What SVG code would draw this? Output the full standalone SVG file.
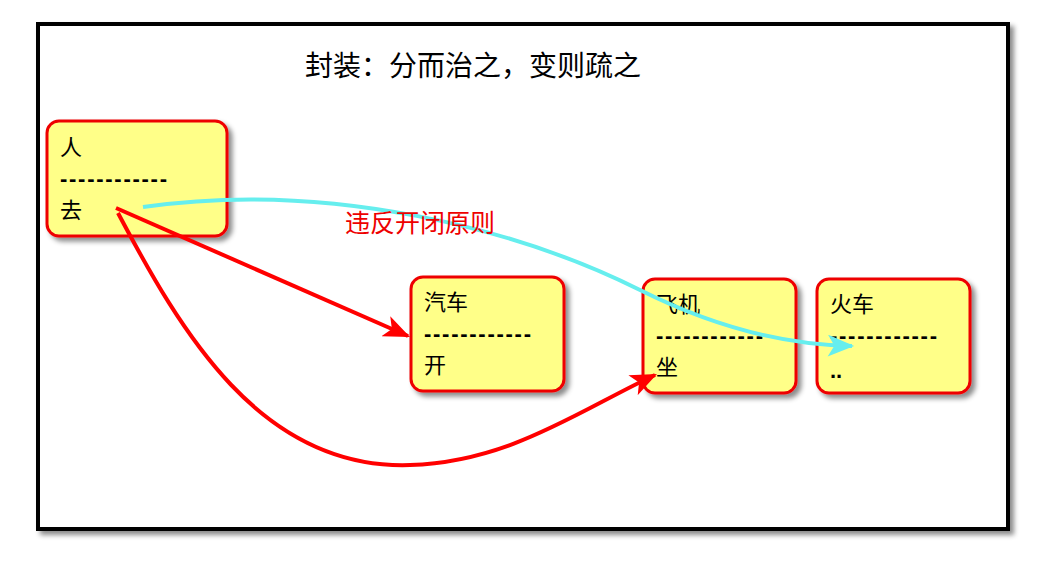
<svg xmlns="http://www.w3.org/2000/svg" width="1056" height="578" viewBox="0 0 1056 578">
<defs>
<filter id="sh" x="-10%" y="-10%" width="130%" height="130%"><feDropShadow dx="4" dy="4" stdDeviation="2.5" flood-color="#000" flood-opacity="0.45"/></filter>
<marker id="ar" viewBox="0 0 12 10" refX="11" refY="5" markerWidth="28" markerHeight="22" markerUnits="userSpaceOnUse" orient="auto"><path d="M0,0 L12,5 L0,10 L3,5 Z" fill="#ff0000"/></marker>
<marker id="ac" viewBox="0 0 12 10" refX="11" refY="5" markerWidth="28" markerHeight="22" markerUnits="userSpaceOnUse" orient="auto"><path d="M0,0 L12,5 L0,10 L3,5 Z" fill="#66eeee"/></marker>
</defs>
<style>
.box{fill:#ffff88;stroke:#ee0000;stroke-width:3;filter:url(#sh)}
.t{font-family:"Noto Sans CJK SC","Liberation Sans",sans-serif;font-size:22px;fill:#000}
.d{font-family:"Liberation Sans",sans-serif;font-size:22px;font-weight:bold;fill:#000}
.red{fill:none;stroke:#ff0000;stroke-width:4}
</style>
<rect width="1056" height="578" fill="#fff"/>
<rect x="38" y="24" width="970" height="505" fill="#fff" stroke="#000" stroke-width="4" filter="url(#sh)"/>
<text x="305" y="76" class="t" style="font-size:28px">封装：分而治之，变则疏之</text>
<g id="person"><rect class="box" x="47" y="121" width="180" height="115" rx="12"/><text class="t" x="60" y="155">人</text><text class="d" x="60" y="186" textLength="107">------------</text><text class="t" x="60" y="218">去</text></g>
<g id="car"><rect class="box" x="411" y="277" width="153" height="114" rx="12"/><text class="t" x="424" y="310">汽车</text><text class="d" x="424" y="341" textLength="107">------------</text><text class="t" x="424" y="373">开</text></g>
<g id="plane"><rect class="box" x="643" y="279" width="153" height="114" rx="12"/><text class="t" x="656" y="312">飞机</text><text class="d" x="656" y="343" textLength="107">------------</text><text class="t" x="656" y="375">坐</text></g>
<g id="train"><rect class="box" x="817" y="279" width="153" height="114" rx="12"/><text class="t" x="830" y="312">火车</text><text class="d" x="830" y="343" textLength="107">------------</text><text class="d" x="830" y="378">..</text></g>
<g id="connectors">
<path class="red" d="M116,208 L408,336" marker-end="url(#ar)"/>
<path class="red" d="M118,213 C180,330 260,470 410,465 C510,462 580,410 655,375" marker-end="url(#ar)"/>
<path d="M143,207 C330,180 520,230 640,290 C720,330 790,345 852,346" fill="none" stroke="#66eeee" stroke-width="4" marker-end="url(#ac)"/>
<text x="345" y="232" style="font-family:'Noto Sans CJK SC',sans-serif;font-size:25px;fill:#ee0000">违反开闭原则</text>
</g>
</svg>
